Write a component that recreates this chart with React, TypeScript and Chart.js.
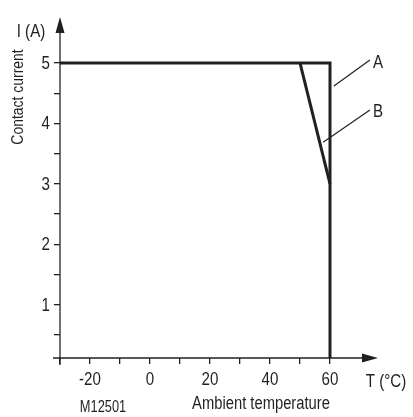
import React, { useEffect, useRef } from "react";
import { Chart, registerables } from "chart.js";

Chart.register(...registerables);

// Data (temperature °C, current A)
const curveA_T = [-30, 60, 60];
const curveA_I = [5, 5, 0.12];
const curveB_T = [50, 60];
const curveB_I = [5, 3];

// Leader lines for labels (value space)
const leaderA_T = [61.3, 73.3];
const leaderA_I = [4.62, 5.05];
const leaderB_T = [57.7, 73.3];
const leaderB_I = [3.69, 4.22];
const labelNames = ["A", "B"];
const labelT = [74.3, 74.3];
const labelI = [5.0, 4.19];

const xTicks = [-30, -20, -10, 0, 10, 20, 30, 40, 50, 60];
const xLabelTicks = [-20, 0, 20, 40, 60];
const yTicks = [0.5, 1, 1.5, 2, 2.5, 3, 3.5, 4, 4.5, 5];
const yLabelTicks = [1, 2, 3, 4, 5];

const X_MIN = -30;
const X_MAX = 76;
const Y_MIN = 0.12;
const Y_MAX = 5.76;

const INK = "#231f20";
const FONT = "'Liberation Sans', Arial, sans-serif";

const zip = (xs: number[], ys: number[]) => xs.map((x, i) => ({ x, y: ys[i] }));

function txt(
  ctx: CanvasRenderingContext2D,
  s: string,
  x: number,
  y: number,
  align: CanvasTextAlign,
  size = 18,
  squeeze = 0.84,
  rot = 0
) {
  ctx.save();
  ctx.font = `${size}px ${FONT}`;
  ctx.textAlign = align;
  ctx.textBaseline = "middle";
  ctx.translate(x, y);
  if (rot) ctx.rotate(rot);
  ctx.scale(squeeze, 1);
  ctx.fillText(s, 0, 0);
  ctx.restore();
}

const overlayPlugin = {
  id: "overlay",
  afterDraw(chart: any) {
    const ctx = chart.ctx as CanvasRenderingContext2D;
    const xs = chart.scales.x;
    const ys = chart.scales.y;
    const ax = xs.getPixelForValue(X_MIN);
    const ay = ys.getPixelForValue(Y_MIN);
    const right = xs.getPixelForValue(X_MAX);
    const top = ys.getPixelForValue(Y_MAX);
    ctx.save();
    ctx.strokeStyle = INK;
    ctx.fillStyle = INK;
    ctx.lineWidth = 1.3;
    // x axis
    ctx.beginPath();
    ctx.moveTo(ax - 7, ay);
    ctx.lineTo(right - 12, ay);
    ctx.stroke();
    ctx.beginPath();
    ctx.moveTo(right, ay);
    ctx.lineTo(right - 16, ay - 4.5);
    ctx.lineTo(right - 16, ay + 4.5);
    ctx.closePath();
    ctx.fill();
    // y axis
    ctx.beginPath();
    ctx.moveTo(ax, ay + 7);
    ctx.lineTo(ax, top + 12);
    ctx.stroke();
    ctx.beginPath();
    ctx.moveTo(ax, top);
    ctx.lineTo(ax - 4.5, top + 16);
    ctx.lineTo(ax + 4.5, top + 16);
    ctx.closePath();
    ctx.fill();

    // tick labels
    xLabelTicks.forEach((v) => txt(ctx, String(v), xs.getPixelForValue(v), 380, "center"));
    yLabelTicks.forEach((v) => txt(ctx, String(v), 50, ys.getPixelForValue(v) + 1, "right"));

    // curve labels
    labelNames.forEach((n, i) => {
      txt(ctx, n, xs.getPixelForValue(labelT[i]), ys.getPixelForValue(labelI[i]), "left");
    });

    // titles
    txt(ctx, "I (A)", 31, 32, "center");
    txt(ctx, "T (°C)", 386, 382, "center");
    txt(ctx, "Ambient temperature", 261, 404, "center", 18, 0.82);
    txt(ctx, "M12501", 103, 408, "center", 16, 0.8);
    txt(ctx, "Contact current", 18, 97, "center", 17, 0.82, -Math.PI / 2);
    ctx.restore();
  },
};

export default function App() {
  const ref = useRef<HTMLCanvasElement | null>(null);
  useEffect(() => {
    if (!ref.current) return;
    const lineDs = (data: any, width: number) => ({
      data,
      borderColor: INK,
      borderWidth: width,
      pointRadius: 0,
      fill: false,
      tension: 0,
      clip: false as any,
      borderJoinStyle: "miter" as const,
    });
    const chart = new Chart(ref.current, {
      type: "line",
      data: {
        datasets: [
          lineDs(zip(curveA_T, curveA_I), 3),
          lineDs(zip(curveB_T, curveB_I), 3),
          lineDs(zip(leaderA_T, leaderA_I), 1.2),
          lineDs(zip(leaderB_T, leaderB_I), 1.2),
        ],
      },
      options: {
        animation: false,
        responsive: false,
        devicePixelRatio: 1,
        layout: { padding: { top: 17, right: 35, left: 0, bottom: 0 } },
        plugins: { legend: { display: false }, tooltip: { enabled: false } },
        scales: {
          x: {
            type: "linear",
            min: X_MIN,
            max: X_MAX,
            afterBuildTicks: (s: any) => {
              s.ticks = xTicks.map((v) => ({ value: v }));
            },
            afterFit: (s: any) => {
              s.height = 59;
            },
            border: { display: false },
            grid: {
              drawOnChartArea: false,
              drawTicks: true,
              tickLength: 6,
              color: INK,
              lineWidth: 1.3,
            },
            ticks: {
              autoSkip: false,
              maxRotation: 0,
              color: "rgba(0,0,0,0)",
              callback: () => "",
            },
          },
          y: {
            type: "linear",
            min: Y_MIN,
            max: Y_MAX,
            afterBuildTicks: (s: any) => {
              s.ticks = yTicks.map((v) => ({ value: v }));
            },
            afterFit: (s: any) => {
              s.width = 60;
            },
            border: { display: false },
            grid: {
              drawOnChartArea: false,
              drawTicks: true,
              tickLength: 6,
              color: INK,
              lineWidth: 1.3,
            },
            ticks: {
              autoSkip: false,
              color: "rgba(0,0,0,0)",
              callback: () => "",
            },
          },
        },
      },
      plugins: [overlayPlugin],
    });
    return () => chart.destroy();
  }, []);
  return (
    <div style={{ position: "fixed", left: 0, top: 0, width: 413, height: 417, background: "#fff" }}>
      <canvas ref={ref} width={413} height={417} style={{ width: 413, height: 417, display: "block" }} />
    </div>
  );
}
